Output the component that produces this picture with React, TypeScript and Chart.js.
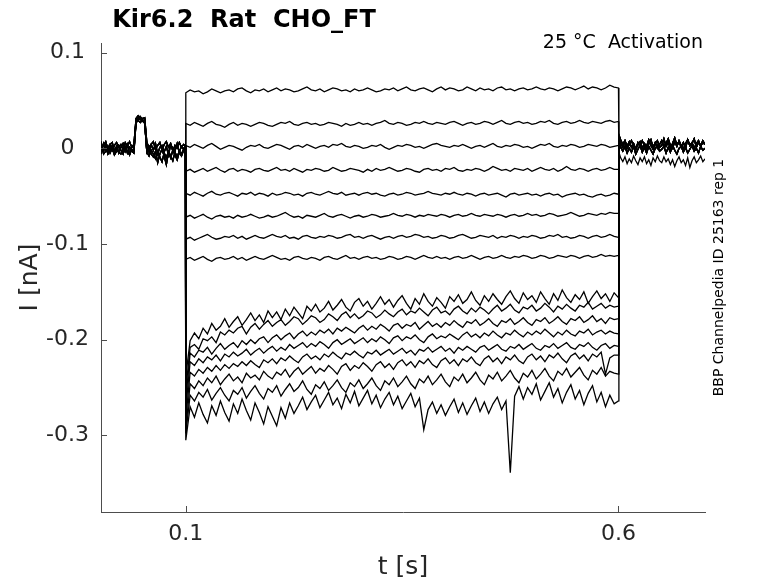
import React, { useEffect, useRef } from 'react';
import Chart from 'chart.js/auto';

// sampling grids (s): holding period, test pulse, return to holding
const preTimes = Array.from({ length: 40 }, (_, k) => k * 0.0025).concat([0.0995]);
const stepTimes = Array.from({ length: 101 }, (_, k) => 0.1 + k * 0.005);
const postTimes = [0.6005].concat(Array.from({ length: 40 }, (_, k) => 0.6025 + k * 0.0025));

const xTicks = [0.1, 0.6];
const xTickLabels = ['0.1', '0.6'];
const yTicks = [-0.3, -0.2, -0.1, 0, 0.1];
const yTickLabels = ['-0.3', '-0.2', '-0.1', '0', '0.1'];

const titleText = 'Kir6.2  Rat  CHO_FT';
const conditionText = '25 °C  Activation';
const sourceText = 'BBP Channelpedia ID 25163 rep 1';

// holding current before the pulse, pA (includes the short test blip)
const pre1 = [3, -4, 5, -1, -5, 4, 6, -3, 2, -5, 1, 5, -3, 4, -6, 2, 0, 29, 32, 30, 28, 30, 2, -4, 4, -2, 5, -6, 1, 3, -4, 2, -7, 4, 0, -3, 5, -4, 2, -1, 3];
const pre2 = [-5, 1, -3, 4, -6, -2, 3, -5, 1, -4, -6, -1, 2, -5, 1, -3, -5, 27, 29, 27, 30, 26, -4, -8, -2, -6, -11, -4, -9, -14, -5, -10, -3, -8, -13, -4, -9, -3, -6, -1, -4];
const pre3 = [6, 2, 3, 7, -1, 4, -2, 3, 6, 1, 4, -1, 6, 2, 7, 1, 4, 31, 34, 32, 31, 32, 6, 1, 4, 7, -1, 3, 6, -2, 4, 7, 1, 5, -3, 3, 0, 6, 1, 4, 3];
const pre4 = [-2, 5, -6, -3, 2, -5, 0, -7, -3, 3, -2, -6, 1, -3, -7, -1, -3, 28, 30, 33, 29, 27, -4, 1, -6, -9, -3, -15, -6, -1, -8, -17, -4, -10, -2, -7, -12, -4, -8, -2, -5];

// holding current after the pulse, pA
const post1 = [14, 9, 4, 8, 2, 7, 1, 5, -1, 6, 2, 8, 3, -1, 5, 9, 1, 6, 0, 4, 8, 2, 5, 10, 3, 0, 7, 2, 8, 3, -1, 5, 9, 3, 6, 0, 5, 8, 2, 6, 4];
const post2 = [7, 1, -3, 2, -5, 0, -4, 2, -6, -1, 3, -4, 1, -5, 2, -2, -6, 0, 3, -3, -1, 2, -5, 1, -4, 3, -2, -6, 0, 2, -4, 1, -5, -1, 3, -3, 0, -5, 2, -2, 0];
const post3 = [11, 5, 1, 7, 0, 4, 8, 2, -1, 4, 7, 0, 5, 2, 9, 3, -1, 5, 8, 1, 3, 10, 2, 6, 0, 5, 11, 3, 7, 1, 6, 0, 9, 3, 5, 10, 1, 6, 3, 8, 4];
const post4 = [-4, -10, -14, -9, -16, -11, -15, -8, -13, -17, -10, -14, -9, -16, -12, -18, -10, -14, -8, -13, -15, -9, -14, -11, -17, -12, -19, -13, -9, -15, -12, -18, -10, -20, -13, -9, -15, -12, -8, -14, -11];

// current during the 0.1-0.6 s pulse, pA, one array per sweep
const sweep01 = [
  58, 61, 59, 60, 57, 59, 62, 60, 58, 60,
  61, 59, 62, 63, 60, 58, 61, 60, 62, 59,
  61, 63, 60, 62, 61, 59, 60, 62, 64, 61,
  60, 62, 59, 61, 63, 62, 60, 61, 59, 62,
  60, 61, 63, 61, 59, 60, 62, 61, 63, 60,
  62, 64, 61, 60, 62, 63, 61, 59, 62, 64,
  61, 63, 62, 60, 61, 64, 62, 60, 63, 61,
  62, 60, 63, 64, 61, 62, 60, 62, 63, 61,
  62, 64, 62, 61, 63, 62, 60, 62, 64, 63,
  61, 63, 65, 62, 64, 63, 61, 63, 66, 64,
  63,
];
const sweep02 = [
  26, 24, 27, 25, 23, 26, 28, 25, 24, 22,
  25, 27, 24, 26, 25, 23, 25, 27, 26, 24,
  23, 25, 27, 26, 28, 25, 24, 26, 27, 25,
  26, 24, 25, 27, 26, 25, 23, 26, 24, 25,
  27, 25, 26, 24, 26, 27, 29, 26, 25, 27,
  26, 24, 25, 27, 26, 28, 26, 25, 27, 26,
  25, 27, 28, 26, 24, 26, 27, 25, 26, 28,
  27, 25, 27, 29, 26, 25, 27, 28, 26, 27,
  25, 26, 28, 27, 29, 26, 25, 27, 28, 26,
  27, 29, 27, 26, 28, 27, 26, 28, 29, 27,
  28,
];
const sweep03 = [
  3, 1, 4, 2, 0, 3, 5, 2, -1, 1,
  3, 2, 0, -2, 1, 3, 2, 4, 1, 0,
  2, 4, 3, 1, -1, 2, 3, 1, 4, 2,
  0, 2, 3, 1, 4, 3, 5, 2, 1, 3,
  2, 0, 1, 3, 2, 4, 1, -1, 1, 3,
  2, 4, 3, 1, 2, 0, 2, 4, 5, 3,
  2, 1, 3, 2, 4, 2, 0, 2, 3, 1,
  3, 5, 2, 1, 3, 2, 4, 3, 1, 2,
  0, 2, 4, 3, 5, 2, 1, 3, 2, 4,
  3, 1, 2, 4, 3, 2, 4, 3, 1, 2,
  3,
];
const sweep04 = [
  -24, -22, -25, -23, -21, -24, -22, -20, -23, -25,
  -22, -21, -24, -22, -23, -25, -22, -21, -23, -24,
  -22, -20, -23, -22, -24, -21, -23, -25, -22, -23,
  -21, -22, -24, -23, -20, -22, -24, -23, -21, -22,
  -23, -25, -22, -24, -21, -23, -22, -20, -22, -24,
  -23, -21, -22, -24, -25, -22, -21, -23, -22, -24,
  -21, -22, -20, -23, -24, -22, -23, -21, -22, -24,
  -22, -19, -21, -23, -22, -24, -21, -22, -23, -21,
  -24, -22, -20, -22, -23, -21, -24, -22, -19, -22,
  -23, -21, -22, -24, -22, -21, -23, -22, -20, -22,
  -22,
];
const sweep05 = [
  -47, -49, -46, -48, -50, -47, -45, -48, -49, -47,
  -46, -48, -50, -47, -48, -46, -49, -47, -48, -50,
  -47, -49, -48, -46, -47, -49, -48, -50, -47, -46,
  -48, -49, -47, -45, -47, -48, -46, -49, -48, -47,
  -49, -47, -46, -48, -47, -49, -50, -48, -47, -49,
  -48, -46, -47, -49, -48, -47, -45, -47, -48, -49,
  -47, -48, -46, -48, -49, -47, -48, -50, -48, -47,
  -49, -48, -47, -49, -51, -48, -47, -49, -48, -47,
  -49, -48, -50, -48, -47, -49, -48, -51, -49, -48,
  -47, -49, -48, -50, -51, -49, -48, -50, -49, -47,
  -48,
];
const sweep06 = [
  -72, -70, -73, -71, -69, -72, -74, -71, -70, -72,
  -71, -73, -70, -72, -71, -69, -71, -73, -72, -70,
  -72, -71, -69, -67, -70, -72, -71, -73, -70, -71,
  -72, -70, -68, -71, -72, -70, -69, -71, -73, -71,
  -70, -72, -71, -69, -70, -72, -71, -70, -68, -70,
  -71, -69, -70, -72, -70, -71, -69, -70, -71, -69,
  -70, -72, -70, -69, -71, -70, -68, -70, -71, -69,
  -70, -71, -69, -70, -72, -70, -69, -71, -70, -68,
  -70, -69, -71, -70, -68, -69, -71, -70, -69, -67,
  -69, -71, -70, -68, -69, -70, -68, -69, -67, -68,
  -68,
];
const sweep07 = [
  -95, -93, -96, -94, -92, -90, -93, -95, -94, -92,
  -93, -91, -94, -92, -95, -93, -91, -93, -94, -92,
  -90, -92, -93, -91, -94, -93, -95, -92, -91, -93,
  -94, -92, -93, -91, -92, -94, -93, -91, -90, -93,
  -92, -94, -92, -91, -93, -95, -93, -92, -94, -92,
  -91, -93, -92, -90, -91, -93, -92, -94, -93, -91,
  -92, -94, -93, -91, -90, -92, -94, -93, -91, -92,
  -93, -91, -94, -92, -93, -91, -92, -94, -92, -93,
  -91, -92, -94, -93, -91, -92, -90, -93, -92, -94,
  -93, -91, -92, -94, -92, -91, -93, -92, -90, -92,
  -93,
];
const sweep08 = [
  -116, -114, -117, -115, -113, -116, -118, -115, -114, -116,
  -115, -113, -116, -114, -117, -115, -113, -115, -116, -114,
  -112, -114, -116, -115, -117, -114, -113, -115, -116, -114,
  -115, -117, -114, -113, -115, -116, -114, -112, -115, -114,
  -116, -114, -113, -115, -114, -116, -115, -113, -114, -116,
  -115, -113, -114, -116, -114, -112, -114, -115, -113, -115,
  -114, -116, -114, -113, -115, -114, -112, -114, -116, -114,
  -113, -115, -114, -112, -114, -115, -113, -114, -112, -113,
  -115, -114, -112, -113, -115, -114, -112, -113, -114, -112,
  -113, -115, -113, -112, -114, -113, -111, -113, -112, -113,
  -112,
];
const sweep09 = [
  -238, -201, -193, -199, -188, -194, -183, -190, -186, -178,
  -187, -181, -176, -185, -179, -172, -180, -174, -182, -170,
  -177, -171, -179, -168, -175, -166, -172, -178, -165, -170,
  -163, -171, -167, -160, -169, -164, -158, -166, -170, -161,
  -157, -165, -160, -168, -162, -155, -163, -158, -166, -159,
  -154, -162, -168, -157, -163, -152, -160, -165, -156, -161,
  -167, -155, -160, -153, -162, -158, -150, -159, -164, -154,
  -160, -152, -158, -163, -155, -149, -157, -162, -151, -158,
  -154, -161, -150, -157, -163, -152, -159, -148, -156, -161,
  -153, -158, -150, -162, -155, -149, -157, -152, -160, -151,
  -156,
];
const sweep10 = [
  -252, -208, -205, -210, -199, -201, -197, -203, -192, -195,
  -190, -193, -188, -186, -194, -187, -183, -189, -184, -180,
  -186, -182, -179, -185, -181, -176, -178, -184, -180, -175,
  -177, -182, -179, -173, -176, -180, -174, -171, -177, -173,
  -178, -175, -170, -172, -177, -174, -169, -173, -176, -171,
  -168, -174, -170, -172, -167, -171, -175, -169, -166, -172,
  -170, -174, -168, -165, -170, -173, -167, -171, -166, -169,
  -173, -168, -164, -170, -167, -163, -169, -172, -166, -168,
  -164, -170, -167, -162, -166, -171, -165, -168, -163, -167,
  -170, -164, -166, -161, -168, -165, -162, -167, -164, -166,
  -165,
];
const sweep11 = [
  -262, -214, -218, -211, -213, -208, -215, -209, -204, -210,
  -206, -203, -208, -201, -205, -200, -204, -199, -197, -203,
  -198, -195, -200, -196, -193, -199, -194, -191, -196, -192,
  -195, -190, -193, -189, -194, -188, -191, -187, -190, -193,
  -188, -185, -190, -186, -189, -184, -187, -191, -185, -183,
  -188, -184, -186, -182, -189, -185, -181, -186, -183, -187,
  -182, -185, -180, -184, -187, -181, -183, -179, -185, -182,
  -178, -183, -186, -180, -182, -178, -184, -181, -177, -182,
  -185, -179, -181, -177, -183, -180, -176, -181, -184, -178,
  -180, -176, -182, -179, -175, -181, -178, -183, -177, -179,
  -178,
];
const sweep12 = [
  -272, -223, -227, -220, -224, -218, -221, -216, -222, -215,
  -218, -213, -217, -214, -210, -216, -212, -209, -214, -210,
  -207, -212, -208, -211, -205, -209, -206, -203, -208, -204,
  -207, -202, -205, -209, -203, -200, -205, -202, -199, -204,
  -201, -198, -203, -199, -202, -197, -200, -204, -198, -196,
  -201, -197, -199, -195, -200, -203, -197, -194, -199, -196,
  -198, -194, -197, -200, -195, -192, -197, -194, -198, -193,
  -196, -191, -195, -198, -193, -195, -190, -194, -197, -192,
  -195, -191, -194, -189, -193, -197, -192, -195, -190, -194,
  -196, -191, -193, -189, -195, -192, -190, -194, -191, -193,
  -194,
];
const sweep13 = [
  -283, -234, -238, -231, -235, -229, -233, -227, -232, -226,
  -230, -225, -228, -223, -227, -222, -226, -229, -221, -224,
  -220, -225, -219, -222, -217, -221, -224, -218, -215, -220,
  -217, -221, -215, -218, -213, -217, -220, -214, -216, -212,
  -216, -219, -213, -215, -211, -216, -213, -210, -215, -212,
  -209, -214, -211, -216, -210, -212, -208, -213, -210, -207,
  -212, -209, -214, -208, -211, -207, -210, -213, -208, -206,
  -211, -208, -205, -210, -212, -207, -209, -205, -210, -207,
  -204, -209, -211, -206, -208, -204, -209, -206, -203, -208,
  -210, -205, -207, -203, -208, -211, -206, -204, -209, -206,
  -207,
];
const sweep14 = [
  -293, -246, -251, -243, -248, -240, -245, -238, -247, -241,
  -236, -243, -239, -245, -235, -240, -237, -242, -233, -238,
  -241, -234, -237, -231, -239, -233, -229, -236, -232, -228,
  -235, -230, -233, -227, -231, -236, -228, -225, -232, -227,
  -230, -224, -228, -233, -226, -223, -229, -225, -231, -224,
  -221, -227, -223, -229, -222, -225, -220, -226, -229, -222,
  -219, -225, -221, -227, -220, -223, -218, -224, -227, -220,
  -217, -223, -219, -225, -218, -221, -216, -222, -225, -218,
  -215, -221, -217, -223, -216, -219, -214, -220, -224, -217,
  -214, -220, -216, -222, -215, -218, -213, -236, -219, -216,
  -216,
];
const sweep15 = [
  -298, -258, -264, -255, -260, -252, -263, -256, -250, -258,
  -264, -253, -257, -250, -261, -254, -248, -256, -262, -251,
  -255, -248, -259, -252, -246, -254, -250, -243, -252, -257,
  -247, -251, -244, -253, -248, -242, -250, -255, -245, -249,
  -242, -251, -246, -240, -248, -253, -243, -247, -240, -249,
  -244, -238, -246, -251, -241, -245, -238, -247, -242, -236,
  -244, -249, -239, -243, -236, -245, -240, -234, -242, -247,
  -237, -241, -234, -243, -238, -232, -240, -245, -235, -239,
  -232, -241, -236, -230, -238, -243, -233, -237, -230, -239,
  -234, -229, -237, -242, -232, -236, -229, -238, -233, -235,
  -236,
];
const sweep16 = [
  -305, -270, -281, -266, -278, -287, -269, -279, -264, -276,
  -285, -267, -277, -262, -274, -284, -266, -276, -288, -270,
  -280, -290, -271, -282, -266, -277, -269, -260, -273, -265,
  -258, -271, -263, -255, -268, -261, -272, -257, -266, -254,
  -269, -261, -253, -267, -258, -271, -262, -255, -268, -259,
  -272, -264, -256, -270, -261, -294, -273, -265, -277, -268,
  -279, -270, -262, -276, -266, -278, -269, -261, -275, -265,
  -277, -267, -260, -273, -264, -339, -259, -249, -262, -250,
  -257, -246, -263, -254, -245, -260, -251, -266, -255, -247,
  -262, -253, -268, -256, -248, -265, -255, -270, -258, -267,
  -264,
];

const sweeps = [
  sweep01, sweep02, sweep03, sweep04, sweep05, sweep06, sweep07, sweep08,
  sweep09, sweep10, sweep11, sweep12, sweep13, sweep14, sweep15, sweep16,
];
const sweepPre = [pre1, pre2, pre3, pre4, pre1, pre2, pre3, pre4, pre1, pre2, pre3, pre4, pre1, pre2, pre3, pre4];
const sweepPost = [post1, post2, post3, post1, post2, post3, post1, post2, post3, post1, post2, post3, post1, post2, post3, post4];

const FONT = "'DejaVu Sans', sans-serif";
const AXIS_COLOR = '#4d4d4d';
const TEXT_COLOR = '#262626';

// MATLAB-like inward ticks plus the free-floating annotations
const decorPlugin = {
  id: 'traceDecor',
  afterDraw(chart: Chart) {
    const { ctx, chartArea, scales } = chart;
    ctx.save();
    ctx.strokeStyle = AXIS_COLOR;
    ctx.lineWidth = 1;
    ctx.beginPath();
    yTicks.forEach((v) => {
      const y = Math.round(scales.y.getPixelForValue(v)) + 0.5;
      ctx.moveTo(chartArea.left, y);
      ctx.lineTo(chartArea.left + 6, y);
    });
    xTicks.forEach((v) => {
      const x = Math.round(scales.x.getPixelForValue(v)) + 0.5;
      ctx.moveTo(x, chartArea.bottom);
      ctx.lineTo(x, chartArea.bottom - 6);
    });
    ctx.stroke();

    ctx.fillStyle = '#000';
    ctx.textBaseline = 'alphabetic';
    ctx.font = `bold 24px ${FONT}`;
    ctx.textAlign = 'center';
    ctx.fillText(titleText, 244, 27);

    ctx.font = `19px ${FONT}`;
    ctx.textAlign = 'right';
    ctx.fillText(conditionText, 703, 48);

    ctx.translate(723, 277.5);
    ctx.rotate(-Math.PI / 2);
    ctx.font = `14px ${FONT}`;
    ctx.textAlign = 'center';
    ctx.fillText(sourceText, 0, 0);
    ctx.restore();
  },
};

const App: React.FC = () => {
  const canvasRef = useRef<HTMLCanvasElement | null>(null);
  const chartInstanceRef = useRef<Chart | null>(null);

  useEffect(() => {
    document.body.style.margin = '0';
    if (chartInstanceRef.current) {
      chartInstanceRef.current.destroy();
    }
    const ctx = canvasRef.current?.getContext('2d');
    if (!ctx) return;

    const datasets = sweeps.map((values, i) => ({
      data: [
        ...preTimes.map((t, k) => ({ x: t, y: sweepPre[i][k] / 1000 })),
        ...stepTimes.map((t, k) => ({ x: t, y: values[k] / 1000 })),
        ...postTimes.map((t, k) => ({ x: t, y: sweepPost[i][k] / 1000 })),
      ],
      borderColor: '#000',
      borderWidth: 1.3,
      pointRadius: 0,
      fill: false,
      tension: 0,
    }));

    chartInstanceRef.current = new Chart(ctx, {
      type: 'line',
      data: { datasets },
      options: {
        animation: false,
        responsive: false,
        layout: { padding: { left: 0, top: 43, right: 73, bottom: 0 } },
        plugins: {
          legend: { display: false },
          tooltip: { enabled: false },
          title: { display: false },
        },
        scales: {
          x: {
            type: 'linear',
            min: 0.002,
            max: 0.7,
            afterBuildTicks: (scale: any) => {
              scale.ticks = xTicks.map((v) => ({ value: v }));
            },
            afterFit: (scale: any) => {
              scale.height = 71;
            },
            ticks: {
              callback: (_v: any, i: number) => xTickLabels[i],
              font: { family: FONT, size: 22 },
              color: TEXT_COLOR,
              padding: 9,
              maxRotation: 0,
              autoSkip: false,
            },
            grid: { display: false, drawTicks: false },
            border: { display: true, color: AXIS_COLOR, width: 1 },
            title: {
              display: true,
              text: 't [s]',
              font: { family: FONT, size: 25 },
              color: TEXT_COLOR,
              padding: { top: 0, bottom: 1 },
            },
          },
          y: {
            type: 'linear',
            min: -0.38,
            max: 0.11,
            afterBuildTicks: (scale: any) => {
              scale.ticks = yTicks.map((v) => ({ value: v }));
            },
            afterFit: (scale: any) => {
              scale.width = 101;
            },
            ticks: {
              callback: (_v: any, i: number) => yTickLabels[i],
              font: { family: FONT, size: 22 },
              color: TEXT_COLOR,
              padding: 12,
              crossAlign: 'center',
              autoSkip: false,
            },
            grid: { display: false, drawTicks: false },
            border: { display: true, color: AXIS_COLOR, width: 1 },
            title: {
              display: true,
              text: 'I [nA]',
              font: { family: FONT, size: 25 },
              color: TEXT_COLOR,
              padding: { top: 15, bottom: 0 },
            },
          },
        },
      },
      plugins: [decorPlugin],
    });

    return () => {
      if (chartInstanceRef.current) {
        chartInstanceRef.current.destroy();
        chartInstanceRef.current = null;
      }
    };
  }, []);

  return (
    <div style={{ width: '778px', height: '583px', background: '#fff' }}>
      <canvas ref={canvasRef} width={778} height={583} style={{ display: 'block' }}></canvas>
    </div>
  );
};

export default App;
